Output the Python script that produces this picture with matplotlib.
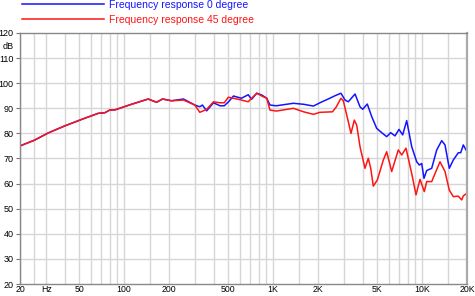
import matplotlib
matplotlib.use('Agg')
import matplotlib.pyplot as plt

plt.rcParams['font.family'] = ['Liberation Sans', 'DejaVu Sans']

# frequency response, 0 degree (Hz, dB)
freq_0 = [20, 25, 31, 40, 52, 67, 74, 80, 87, 112, 145, 165, 181, 208, 250, 298, 322, 335, 358, 398,
          440, 470, 500, 542, 612, 680, 717, 777, 838, 906, 952, 1050, 1366, 1600, 1864, 2060, 2400, 2600, 2850, 3036,
          3194, 3544, 3828, 3990, 4284, 4586, 4954, 5352, 5782, 6148, 6574, 6992, 7406, 7876, 8512, 9194, 9572, 9932,
          10290, 10728, 11592, 12524, 13530, 14238, 15214, 16186, 17486, 18148, 18892, 19694, 20000]
db_0 = [75.0, 77.3, 80.2, 83.0, 85.6, 88.0, 88.2, 89.3, 89.4, 91.6, 93.7, 92.4, 93.7, 93.0, 93.7, 91.3, 90.6, 91.3, 89.0, 92.2,
        91.0, 91.0, 92.5, 94.9, 94.0, 95.4, 93.6, 96.0, 95.3, 94.0, 91.3, 91.0, 92.0, 91.6, 90.9, 92.2, 94.0, 95.0, 96.0, 93.3,
        92.6, 95.7, 90.6, 89.6, 91.7, 86.7, 82.0, 80.3, 78.7, 80.3, 79.0, 81.6, 79.4, 85.1, 74.7, 68.7, 67.4, 68.0,
        62.1, 65.2, 66.1, 73.4, 77.1, 75.4, 66.1, 69.4, 72.3, 72.3, 75.4, 73.4, 73.0]

# frequency response, 45 degree
freq_45 = [20, 25, 31, 40, 52, 67, 74, 80, 87, 112, 145, 165, 181, 208, 250, 298, 322, 340, 358, 398,
           440, 470, 500, 542, 612, 680, 717, 777, 838, 906, 952, 1050, 1366, 1600, 1864, 2060, 2500, 2650, 2850, 2958,
           3194, 3330, 3505, 3638, 3828, 4134, 4352, 4516, 4700, 5000, 5488, 5782, 6246, 6916, 7292, 7790, 8512, 9094,
           9676, 10338, 10728, 11592, 12200, 13180, 14238, 15214, 16186, 17486, 18430, 18892, 19694, 20000]
db_45 = [75.0, 77.3, 80.2, 83.0, 85.6, 88.0, 88.2, 89.3, 89.4, 91.6, 93.7, 92.4, 93.7, 93.0, 93.3, 91.3, 88.4, 89.0, 89.6, 92.6,
         92.2, 92.2, 94.4, 94.0, 93.3, 92.6, 94.0, 96.0, 94.9, 94.0, 89.3, 88.9, 90.0, 88.6, 87.6, 88.4, 88.6, 90.5, 94.0, 93.0,
         84.7, 80.0, 85.3, 83.3, 74.7, 66.1, 70.1, 66.1, 59.0, 61.4, 69.4, 72.7, 64.8, 73.4, 71.4, 74.1, 64.0, 55.5,
         61.7, 56.8, 60.8, 60.8, 64.0, 68.7, 64.8, 57.4, 54.8, 55.0, 53.5, 55.1, 55.9, 55.5]

xtick_pos = [20, 30, 50, 100, 200, 500, 1000, 2000, 5000, 10000, 20000]
xtick_lab = ['20', 'Hz', '50', '100', '200', '500', '1K', '2K', '5K', '10K', '20K']
xgrid = [20, 25, 30, 40, 50, 60, 70, 80, 90, 100, 150, 200, 300, 400, 500, 600, 700, 800, 900,
         1000, 1500, 2000, 3000, 4000, 5000, 6000, 7000, 8000, 9000, 10000, 15000, 20000]
ytick_pos = [20, 30, 40, 50, 60, 70, 80, 90, 100, 110, 115, 120]
ytick_lab = ['20', '30', '40', '50', '60', '70', '80', '90', '100', '110', 'dB', '120']

fig = plt.figure(figsize=(4.75, 2.96), dpi=100)
ax = fig.add_axes([20/475, 12/296, 447/475, 251/296])

l0, = ax.plot(freq_0, db_0, color='#1414ff', lw=1.1, label='Frequency response 0 degree')
l45, = ax.plot(freq_45, db_45, color='#ff1414', lw=1.1, label='Frequency response 45 degree')

ax.set_xscale('log')
ax.set_xlim(20, 20000)
ax.set_ylim(20, 120)
ax.set_xticks(xtick_pos)
ax.set_xticklabels(xtick_lab)
ax.set_xticks(xgrid, minor=True)
ax.set_xticklabels([], minor=True)
ax.set_yticks(ytick_pos)
ax.set_yticklabels(ytick_lab)

ax.grid(False)
for f in xgrid:
    ax.axvline(f, color='#d6d6d6', lw=1, zorder=0)
for v in range(30, 120, 10):
    ax.axhline(v, color='#d6d6d6', lw=1, zorder=0)

ax.tick_params(axis='y', which='major', labelsize=6.5, length=3, width=0.8, color='#777777', pad=1.5)
ax.tick_params(axis='x', which='major', labelsize=6.3, length=0, pad=1)
ax.tick_params(axis='x', which='minor', length=0)
# no tick mark for the dB label
ax.yaxis.get_major_ticks()[10].tick1line.set_visible(False)
for s in ax.spines.values():
    s.set_color('#888888')
    s.set_linewidth(1)
ax.spines['right'].set_linewidth(1.6)
ax.spines['right'].set_color('#aaaaaa')

fig.legend(handles=[l0, l45], loc='upper left', bbox_to_anchor=(22/475, 1.0),
           frameon=False, fontsize=7.5, handlelength=7.9, handletextpad=0.5,
           labelspacing=0.45, borderpad=0, borderaxespad=0, labelcolor='linecolor')

fig.savefig('out.png', dpi=100)
